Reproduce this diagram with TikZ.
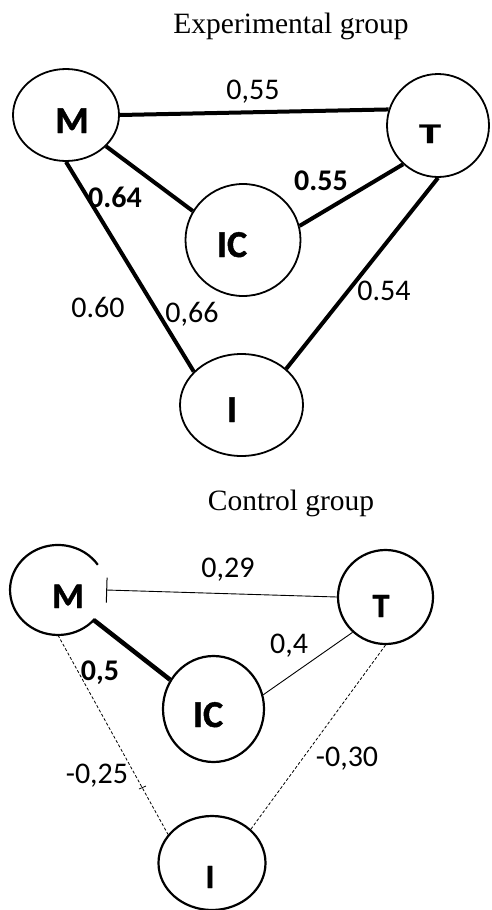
\documentclass[tikz,border=0pt]{standalone}
\usepackage{fontspec}
\setmainfont{Liberation Serif}
\newfontfamily\carl{Carlito}
\newfontfamily\carlh{Carlito}[BoldFeatures={FakeBold=1.2}]
\usetikzlibrary{shapes.geometric,arrows.meta}
\tikzset{
  nd/.style={ellipse, draw, line width=1.8pt, inner sep=0pt},
  ndb/.style={ellipse, draw, line width=2.2pt, inner sep=0pt},
  nlab/.style={font=\carlh\bfseries\fontsize{38}{40}\selectfont, anchor=base, inner sep=0pt},
  elab/.style={font=\carl\fontsize{30}{32}\selectfont, anchor=base, inner sep=0pt},
  elabb/.style={font=\carl\bfseries\fontsize{30}{32}\selectfont, anchor=base, inner sep=0pt},
  ttl/.style={font=\fontsize{29.5}{31}\selectfont, anchor=base, inner sep=0pt},
  thickedge/.style={line width=4pt},
  thinedge/.style={line width=0.9pt},
  dashedge/.style={line width=0.8pt, dash pattern=on 3pt off 2pt}
}
\begin{document}
\begin{tikzpicture}[x=1pt,y=-1pt]
\useasboundingbox (0,0) rectangle (491,910);
% ---------- Experimental group ----------
\node[ttl] (t1) at (291,33) {Experimental group};
\node[nd, minimum width=106pt, minimum height=92pt] (M1) at (66,115) {};
\node[nd, minimum width=102pt, minimum height=103pt] (T1) at (438,125.5) {};
\node[nd, minimum width=115pt, minimum height=112pt] (IC1) at (243,240) {};
\node[nd, minimum width=123pt, minimum height=102pt] (I1) at (241.5,405) {};
\node[nlab] (lM1) at (72,133) {M};
\node[nlab, font=\carlh\bfseries\fontsize{30}{32}\selectfont] (lT1) at (430,143) {\scalebox{1.45}[0.95]{T}};
\node[nlab] (lIC1) at (232,257) {IC};
\node[nlab] (lI1) at (232,422) {I};
\draw[thickedge] (M1.east) -- (T1.162);
\draw[thickedge] (M1.-38) -- (IC1.150);
\draw[thickedge] (IC1.14) -- (T1.228);
\draw[thickedge] (M1.south) -- (I1.145);
\draw[thickedge] (T1.south) -- (I1.39);
\node[elab] (e1) at (253,99) {0,55};
\node[elabb] (e2) at (115,207) {0.64};
\node[elabb] (e3) at (321,190) {0.55};
\node[elab] (e4) at (98,317) {0.60};
\node[elab] (e5) at (192,322) {0,66};
\node[elab] (e6) at (384,300) {0.54};
% ---------- Control group ----------
\node[ttl] (t2) at (291,510) {Control group};
\node[ellipse, inner sep=0pt, minimum width=96pt, minimum height=90pt] (M2) at (58,590) {};
\draw[line width=2.2pt] (94.8,618.9) arc[start angle=40, end angle=326, x radius=48, y radius=45];
\node[ndb, minimum width=95pt, minimum height=94pt] (T2) at (385.5,597) {};
\node[ndb, minimum width=101pt, minimum height=106pt] (IC2) at (213.5,709) {};
\node[ndb, minimum width=107pt, minimum height=94pt] (I2) at (212,863) {};
\node[nlab, font=\carlh\bfseries\fontsize{36}{38}\selectfont] (lM2) at (68,608) {M};
\node[nlab, font=\carlh\bfseries\fontsize{34}{36}\selectfont] (lT2) at (381,617) {T};
\node[nlab] (lIC2) at (208,727) {IC};
\node[nlab, font=\carlh\bfseries\fontsize{34}{36}\selectfont] (lI2) at (210,888) {I};
\draw[thinedge, {Bar[width=25pt,line width=1pt]}-] (M2.east) -- (T2.west);
\draw[line width=4.5pt] (M2.-40) -- (IC2.146);
\draw[thinedge] (IC2.16) -- (T2.227);
\draw[dashedge] (M2.south) -- (I2.147);
\draw[dashedge] (T2.south) -- (I2.41);
\coordinate (s1) at (139,789);
\coordinate (s2) at (146,786);
\draw[line width=0.8pt] (s1) -- (s2);
\node[elab] (f1) at (228,577) {0,29};
\node[elabb] (f2) at (100,680) {0,5};
\node[elab] (f3) at (289,653) {0,4};
\node[elab] (f4) at (97,783) {-0,25};
\node[elab] (f5) at (347,766) {-0,30};
\end{tikzpicture}
\end{document}
